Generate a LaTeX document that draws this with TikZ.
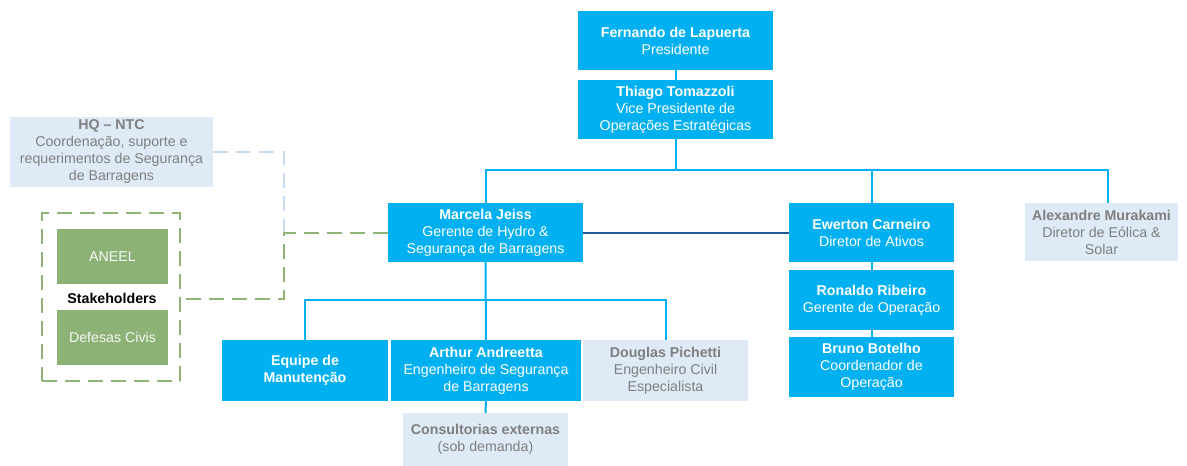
\documentclass[tikz,border=0pt]{standalone}
\usepackage{fontspec}
\setmainfont{Liberation Sans}
\definecolor{orgblue}{HTML}{00B0F0}
\definecolor{palebox}{HTML}{DEEAF6}
\definecolor{paletext}{HTML}{7F7F7F}
\definecolor{greenbox}{HTML}{8CB276}
\definecolor{greendash}{HTML}{8FB476}
\definecolor{hqdash}{HTML}{C9DCF0}
\definecolor{navyline}{HTML}{1F5A96}
\begin{document}
\begin{tikzpicture}[x=1pt,y=-1pt,
    every node/.style={font=\fontsize{14.2}{17}\selectfont, align=center, inner sep=0pt},
    box/.style={fill=orgblue, text=white, minimum height=59pt},
    palenode/.style={fill=palebox, text=paletext, minimum height=59pt},
    stakebox/.style={fill=greenbox, text=white!92!greenbox, minimum width=111pt, minimum height=55pt},
    conn/.style={orgblue, line width=2pt},
    dashline/.style={line width=2pt, dash pattern=on 15pt off 8pt}]
  \useasboundingbox (0,0) rectangle (1187,466);
  % top
  \node[box, minimum width=195pt] (pres) at (675.5,40.5) {\textbf{Fernando de Lapuerta}\\Presidente};
  \node[box, minimum width=195pt] (vp) at (675.5,109.5) {\textbf{Thiago Tomazzoli}\\Vice Presidente de\\Operações Estratégicas};
  % second level
  \node[box, minimum width=195pt] (marcela) at (485.5,232.5) {\textbf{Marcela Jeiss}\\Gerente de Hydro \&\\Segurança de Barragens};
  \node[box, minimum width=165pt] (ewerton) at (871.5,232.5) {\textbf{Ewerton Carneiro}\\Diretor de Ativos};
  \node[palenode, minimum width=153pt, minimum height=58pt] (alex) at (1101.5,232) {\textbf{Alexandre Murakami}\\Diretor de Eólica \&\\Solar};
  \node[box, minimum width=165pt, minimum height=60pt] (ronaldo) at (871.5,300) {\textbf{Ronaldo Ribeiro}\\Gerente de Operação};
  \node[box, minimum width=165pt, minimum height=60pt] (bruno) at (871.5,367) {\textbf{Bruno Botelho}\\Coordenador de\\Operação};
  % third level
  \node[box, minimum width=166pt, minimum height=61pt] (equipe) at (305,370.5) {\textbf{Equipe de}\\\textbf{Manutenção}};
  \node[box, minimum width=190pt, minimum height=61pt] (arthur) at (486,370.5) {\textbf{Arthur Andreetta}\\Engenheiro de Segurança\\de Barragens};
  \node[palenode, minimum width=165pt, minimum height=61pt] (douglas) at (665.5,370.5) {\textbf{Douglas Pichetti}\\Engenheiro Civil\\Especialista};
  \node[palenode, minimum width=165pt, minimum height=53pt] (consult) at (485.5,439.5) {\textbf{Consultorias externas}\\(sob demanda)};
  % left side
  \node[palenode, minimum width=203pt, minimum height=70pt] (hq) at (111.5,152) {\textbf{HQ – NTC}\\Coordenação, suporte e\\requerimentos de Segurança\\de Barragens};
  \node[draw=greendash, dashline, minimum width=138pt, minimum height=168pt] (stake) at (111,297) {};
  \node[stakebox] (aneel) at (112.5,256.5) {ANEEL};
  \node[stakebox] (defesas) at (112.5,337.5) {Defesas Civis};
  \node[font=\fontsize{14.2}{17}\selectfont\bfseries] (stklabel) at (112,298) {Stakeholders};
  % connectors
  \coordinate (bus) at (675.5,170);
  \coordinate (bus2) at (486,300);
  \coordinate (gk) at (284,232.5);
  \draw[conn] (pres) -- (vp);
  \draw[conn] (vp) -- (bus);
  \draw[conn] (marcela.north) |- (bus) -| ([xshift=6.5pt]alex.north);
  \draw[conn] (bus -| ewerton.north) -- (ewerton.north);
  \draw[conn] (ewerton) -- (ronaldo);
  \draw[conn] (ronaldo) -- (bruno);
  \draw[navyline, line width=2pt] (marcela.east) -- (ewerton.west);
  \draw[conn] (marcela.south) -- (arthur.north);
  \draw[conn] (equipe.north) |- (bus2) -| (douglas.north);
  \draw[conn] (arthur.south) -- (consult.north);
  \draw[hqdash, dashline] (hq.east) -| (gk);
  \draw[greendash, dashline] (marcela.west) -- (gk) |- ([yshift=-2pt]stake.east);
\end{tikzpicture}
\end{document}
